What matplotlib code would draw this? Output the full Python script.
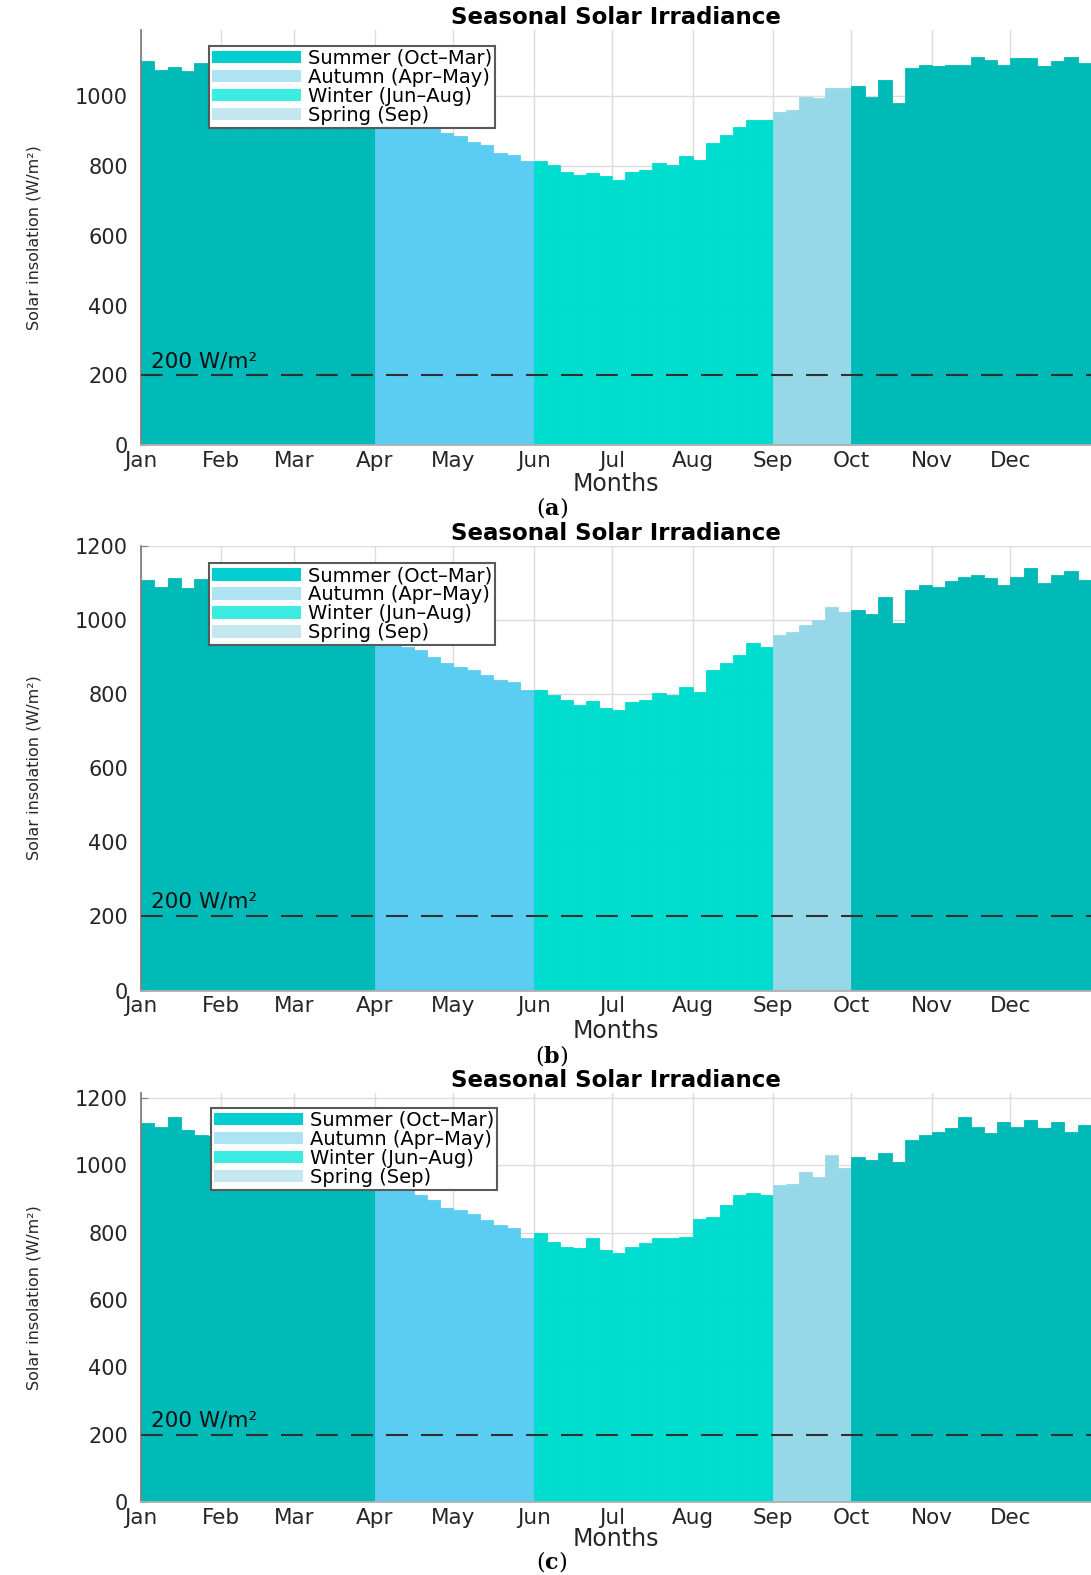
import matplotlib
matplotlib.use("Agg")
import matplotlib.pyplot as plt
from matplotlib.patches import Patch
import numpy as np

plt.rcParams['font.family'] = ['DejaVu Sans']
plt.rcParams['mathtext.fontset'] = 'dejavuserif'

# ---------------- data ----------------
months = ['Jan', 'Feb', 'Mar', 'Apr', 'May', 'Jun', 'Jul', 'Aug', 'Sep', 'Oct', 'Nov', 'Dec']
month_days = [31, 28, 31, 30, 31, 30, 31, 31, 30, 31, 30, 31]
month_season = ['Summer', 'Summer', 'Summer', 'Autumn', 'Autumn', 'Winter',
                'Winter', 'Winter', 'Spring', 'Summer', 'Summer', 'Summer']
bins_per_month = 6

# irradiance (W/m2), 6 readings per month
irr_a = [1100, 1076, 1085, 1071, 1095, 1090,
         1088, 1084, 1090, 1080, 1076, 1072,
         1066, 1058, 1046, 1032, 1012, 992,
         962, 945, 928, 915, 913, 895,
         885, 870, 861, 838, 832, 813,
         813, 803, 784, 775, 780, 770,
         760, 784, 789, 808, 803, 829,
         818, 866, 889, 913, 932, 932,
         956, 961, 999, 994, 1024, 1024,
         1028, 999, 1047, 981, 1081, 1090,
         1086, 1090, 1090, 1114, 1105, 1090,
         1109, 1109, 1086, 1100, 1114, 1095]

irr_b = [1107, 1089, 1112, 1085, 1110, 1095,
         1092, 1086, 1090, 1082, 1077, 1070,
         1064, 1055, 1044, 1030, 1010, 988,
         965, 945, 927, 918, 900, 882,
         873, 864, 851, 837, 833, 810,
         810, 797, 783, 770, 780, 761,
         757, 779, 783, 801, 797, 819,
         806, 864, 882, 905, 936, 927,
         959, 968, 986, 999, 1035, 1022,
         1026, 1015, 1062, 990, 1080, 1094,
         1089, 1103, 1116, 1121, 1112, 1094,
         1116, 1139, 1098, 1121, 1130, 1107]

irr_c = [1125, 1115, 1144, 1105, 1090, 1088,
         1085, 1080, 1076, 1070, 1062, 1055,
         1046, 1036, 1024, 1010, 995, 975,
         956, 947, 927, 912, 897, 872,
         867, 857, 838, 823, 813, 783,
         798, 773, 758, 755, 783, 748,
         739, 758, 768, 783, 783, 788,
         842, 847, 882, 912, 917, 912,
         941, 946, 981, 966, 1031, 991,
         1026, 1016, 1036, 1011, 1075, 1090,
         1100, 1110, 1144, 1115, 1095, 1129,
         1115, 1134, 1110, 1129, 1100, 1120]

panels = [irr_a, irr_b, irr_c]
panel_letters = ['a', 'b', 'c']
panel_ymax = [1190, 1200, 1215]
panel_yticks = [[0, 200, 400, 600, 800, 1000],
                [0, 200, 400, 600, 800, 1000, 1200],
                [0, 200, 400, 600, 800, 1000, 1200]]
threshold = 200

seasons = ['Summer', 'Autumn', 'Winter', 'Spring']
legend_labels = ['Summer (Oct\u2013Mar)', 'Autumn (Apr\u2013May)',
                 'Winter (Jun\u2013Aug)', 'Spring (Sep)']
bar_colors = {'Summer': '#00BAB7', 'Autumn': '#5BCDF2',
              'Winter': '#00DDCF', 'Spring': '#97D8E8'}
legend_colors = {'Summer': '#00CED1', 'Autumn': '#ADE3F3',
                 'Winter': '#3AEDE0', 'Spring': '#C4E7EF'}

# ---------------- geometry ----------------
month_start = np.concatenate([[0], np.cumsum(month_days)])
left_edges, widths, colors = [], [], []
for m in range(12):
    w = month_days[m] / bins_per_month
    for k in range(bins_per_month):
        left_edges.append(month_start[m] + k * w)
        widths.append(w)
        colors.append(bar_colors[month_season[m]])

W, H = 1091, 1575
fig = plt.figure(figsize=(W / 100, H / 100), dpi=100)

# axes boxes in pixels (left, top, right, bottom)
boxes = [(140.6, 30, 1091, 445), (140.6, 545.5, 1091, 990.5), (140.6, 1093, 1091, 1502)]
legend_anchor = [(0.072, 0.962), (0.072, 0.960), (0.074, 0.964)]
caption_y = [507, 1056, 1562]
xlabel_y = [-0.066, -0.064, -0.062]

for i, vals in enumerate(panels):
    l, t, r, b = boxes[i]
    ax = fig.add_axes([l / W, 1 - b / H, (r - l) / W, (b - t) / H])
    ax.bar(left_edges, vals, width=widths, align='edge', color=colors,
           edgecolor=colors, linewidth=0.6, zorder=2)
    ax.set_xlim(0, 365)
    ax.set_ylim(0, panel_ymax[i])
    ax.set_xticks(month_start[:12])
    ax.set_xticklabels(months)
    ax.set_yticks(panel_yticks[i])
    ax.grid(True, color='#dcdcdc', linewidth=1.0, zorder=0)
    ax.set_axisbelow(True)
    for s in ['top', 'right']:
        ax.spines[s].set_visible(False)
    ax.spines['left'].set_color('#808080')
    ax.spines['left'].set_linewidth(1.3)
    ax.spines['bottom'].set_color('#b0b0b0')
    ax.spines['bottom'].set_linewidth(1.3)
    ax.tick_params(axis='x', length=0, pad=4, labelsize=15.5, labelcolor='#262626')
    ax.tick_params(axis='y', direction='in', length=5, color='#808080',
                   pad=9, labelsize=15, labelcolor='#262626')

    ax.axhline(threshold, color='#303030', linewidth=1.5, dashes=(10.5, 6.3), zorder=3)
    ax.text(4, threshold + 12, '200 W/m\u00b2', fontsize=15.5, color='#111111',
            ha='left', va='bottom', zorder=4)

    ax.set_title('Seasonal Solar Irradiance', fontsize=16.5, fontweight='bold', pad=4)
    ax.set_xlabel('Months', fontsize=17, color='#262626')
    ax.xaxis.set_label_coords(0.5, xlabel_y[i])
    ax.set_ylabel('Solar insolation (W/m\u00b2)', fontsize=11.5, color='#262626')
    ax.yaxis.set_label_coords(-0.104, 0.5)

    handles = [Patch(facecolor=legend_colors[s], edgecolor='none') for s in seasons]
    leg = ax.legend(handles, legend_labels, loc='upper left',
                    bbox_to_anchor=legend_anchor[i], fontsize=14,
                    frameon=True, fancybox=False, framealpha=1,
                    handlelength=4.6, handleheight=0.6, handletextpad=0.35,
                    labelspacing=0.0, borderpad=0.15, borderaxespad=0)
    leg.get_frame().set_edgecolor('#5a5a5a')
    leg.get_frame().set_linewidth(1.5)
    leg.set_zorder(5)

    fig.text(552 / W, 1 - caption_y[i] / H, r'($\mathbf{%s}$)' % panel_letters[i],
             fontsize=16, family='DejaVu Serif', ha='center', va='center')

fig.savefig('out.png', dpi=100)
